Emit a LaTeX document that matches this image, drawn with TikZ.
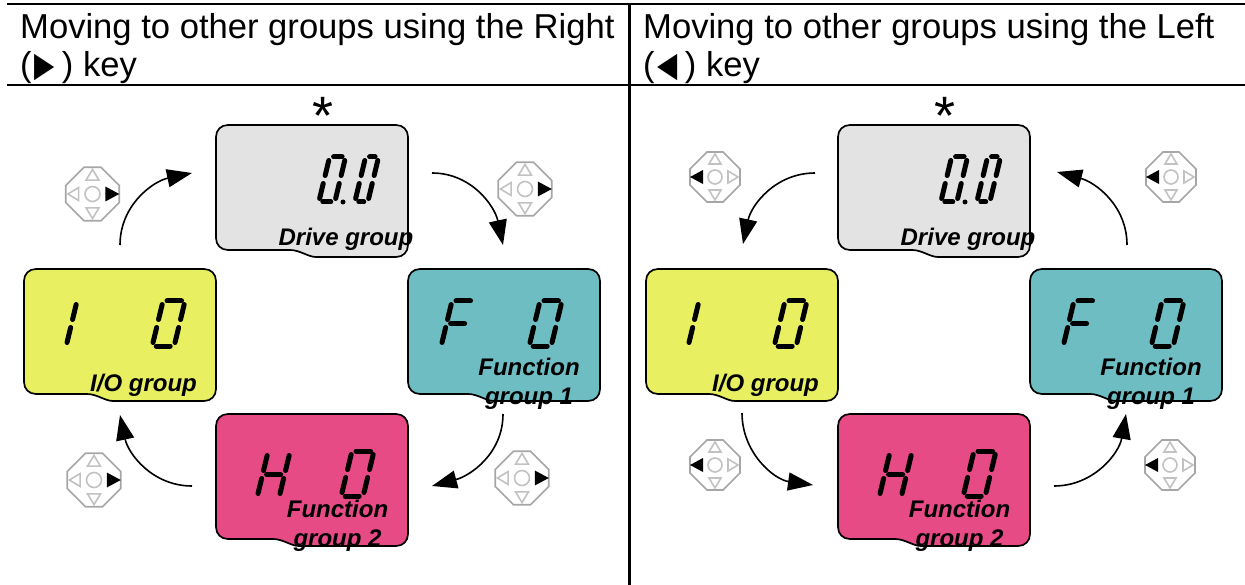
\documentclass[tikz,border=0pt]{standalone}
\usepackage{fontspec}
\setmainfont{Liberation Sans}
\newfontfamily\symfont{DejaVu Sans}
\usepackage{tikz}
\usetikzlibrary{arrows.meta}

\definecolor{drivegray}{HTML}{E3E3E3}
\definecolor{ioyellow}{HTML}{E8EF60}
\definecolor{functeal}{HTML}{6DBDC3}
\definecolor{funcpink}{HTML}{E64B85}

\newcommand\sega{(4,0) -- (\dw-3.5,0)}
\newcommand\segb{(\dw,3.5) -- (\dw,18.5)}
\newcommand\segc{(\dw,26.5) -- (\dw,41.5)}
\newcommand\segd{(4,45) -- (\dw-4,45)}
\newcommand\sege{(0,26.5) -- (0,41.5)}
\newcommand\segf{(0,3.5) -- (0,18.5)}
\newcommand\segg{(4,22.5) -- (\dw-4,22.5)}
\newcommand\keyglyph[1]{\hspace{3pt}\scalebox{.76}[1]{\symfont #1}\hspace{7pt}}

\tikzset{
    pics/lcdbox/.style 2 args={code={
        \draw[line width=1.7pt, fill=#1] (#2+26,132) .. controls (#2+18,132) and (#2+10,125) .. (#2,125)
            -- (12,125) .. controls (5,125) and (0,120) .. (0,113) -- (0,12) .. controls (0,5) and (5,0) .. (12,0)
            -- (180,0) .. controls (187,0) and (192,5) .. (192,12) -- (192,120) .. controls (192,127) and (187,132) .. (180,132) -- cycle;
    }},
    pics/lcddigit/.style 2 args={code={
        \def\dw{#1}
        \foreach \s in {#2} {
            \draw[line width=5pt, line cap=round, xslant=0.24] \csname seg\s\endcsname;
        }
    }},
    pics/keypad/.style={code={
        \draw[line width=1.6pt, black!35] (-8,-25) -- (8,-25) -- (25,-8) -- (25,8) -- (8,25) -- (-8,25) -- (-25,8) -- (-25,-8) -- cycle;
        \draw[line width=1.6pt, black!24] (0,-23) -- (6,-13) -- (-6,-13) -- cycle;
        \draw[line width=1.6pt, black!24] (0,23) -- (6,13) -- (-6,13) -- cycle;
        \draw[line width=1.6pt, black!24] (-23,0) -- (-13,6) -- (-13,-6) -- cycle;
        \draw[line width=1.6pt, black!24] (0,0) circle (7);
        \fill (12,-7) -- (25,0) -- (12,7) -- cycle;
    }}
}

\begin{document}
\begin{tikzpicture}[
        x=1pt, y=-1pt,
        arrow/.style={-{Triangle[length=25pt, width=18pt]}, line width=1.6pt},
        rulebar/.style={line width=2.6pt},
        heading/.style={anchor=north west, inner sep=0pt, align=left, font=\fontsize{34.6}{38.5}\selectfont},
        grouplabel/.style={anchor=base, inner sep=0pt, font=\fontsize{24}{29}\selectfont\bfseries\itshape}
    ]
        \useasboundingbox (0,0) rectangle (1245,585);
        \fill[white] (0,0) rectangle (1245,585);

        \foreach \side/\dx in {l/0, r/622} {
            \begin{scope}[xshift=\dx]
                \pic at (216,125) {lcdbox={drivegray}{74}};
                \pic at (24,269) {lcdbox={ioyellow}{63}};
                \pic at (408,269) {lcdbox={functeal}{60}};
                \pic at (216,414) {lcdbox={funcpink}{57}};

                \pic at (329.6,157) {lcddigit={16}{a,b,c,d,e,f}};
                \pic at (365.6,157) {lcddigit={13}{a,b,c,d,e,f}};
                \fill (343,202) circle (2.5) coordinate (\side dot);

                \pic at (55,301) {lcddigit={22}{b,c}};
                \pic at (163,301) {lcddigit={22}{a,b,c,d,e,f}};
                \pic at (452,301) {lcddigit={22}{a,e,f,g}};
                \pic at (540,301) {lcddigit={22}{a,b,c,d,e,f}};
                \pic at (268,452) {lcddigit={22}{b,c,e,f,g}};
                \pic at (352,451) {lcddigit={22}{a,b,c,d,e,f}};

                \node[grouplabel] (\side drive) at (346,246) {Drive group};
                \node[grouplabel] (\side io) at (143.5,391) {I/O group};
                \node[grouplabel] (\side funa) at (529,375) {Function};
                \node[grouplabel] (\side funb) at (529,404) {group 1};
                \node[grouplabel] (\side fuc) at (337.5,517) {Function};
                \node[grouplabel] (\side fud) at (337.5,546) {group 2};
                \node[anchor=base, inner sep=0pt, font=\fontsize{54}{54}\selectfont] (\side star) at (323,135) {*};
            \end{scope}
        }

        \node[heading] (lhead) at (20,13) {Moving to other groups using the Right\\(\keyglyph{▶}) key};
        \node[heading] (rhead) at (643,13) {Moving to other groups using the Left\\(\keyglyph{◀}) key};

        \pic at (92.5,194) [scale=1.07] {keypad};
        \pic at (525,189) [scale=1.07] {keypad};
        \pic at (94,480) [scale=1.07] {keypad};
        \pic at (522,478) [scale=1.07] {keypad};
        \pic at (715,177) [xscale=-1] {keypad};
        \pic at (1171,177) [xscale=-1] {keypad};
        \pic at (715,465) [xscale=-1] {keypad};
        \pic at (1170,465) [xscale=-1] {keypad};

        \coordinate (a1) at (120,245);
        \coordinate (a2) at (192,173);
        \coordinate (b1) at (432,173);
        \coordinate (b2) at (503,245);
        \coordinate (c1) at (503,414);
        \coordinate (c2) at (432,486);
        \coordinate (d1) at (192,486);
        \coordinate (d2) at (120,415);
        \coordinate (e1) at (815,173);
        \coordinate (e2) at (743,244);
        \coordinate (f1) at (742,413);
        \coordinate (f2) at (813,485);
        \coordinate (g1) at (1054,486);
        \coordinate (g2) at (1126,414);
        \coordinate (h1) at (1127,245);
        \coordinate (h2) at (1057,172);
        \draw[arrow] (a1) to[out=90, in=192] (a2);
        \draw[arrow] (b1) to[out=0, in=102] (b2);
        \draw[arrow] (c1) to[out=-90, in=15] (c2);
        \draw[arrow] (d1) to[out=180, in=-78] (d2);
        \draw[arrow] (e1) to[out=180, in=78] (e2);
        \draw[arrow] (f1) to[out=-90, in=172] (f2);
        \draw[arrow] (g1) to[out=0, in=-100] (g2);
        \draw[arrow] (h1) to[out=90, in=-15] (h2);

        \coordinate (topl) at (7,4);
        \coordinate (topr) at (1245,4);
        \coordinate (midl) at (7,85);
        \coordinate (midr) at (1245,85);
        \coordinate (divt) at (629.5,4);
        \coordinate (divb) at (629.5,585);
        \draw[rulebar] (topl) -- (topr);
        \draw[rulebar] (midl) -- (midr);
        \draw[rulebar] (divt) -- (divb);
    \end{tikzpicture}
\end{document}
